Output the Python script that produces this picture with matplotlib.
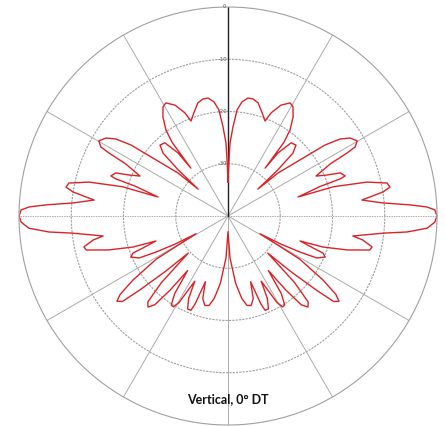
import numpy as np
import matplotlib.pyplot as plt

# right half of the vertical pattern (deg from horizontal, dB); left half is its mirror
angle_deg = [90, 89.2, 88.4, 86.8, 85.1, 83.0, 80.4, 77.9, 75.1, 71.7, 68.7, 67.3, 64.5,
             61.2, 59.2, 56.7, 54.2, 52.8, 52.2, 51.6, 49.2, 46.2, 44.1, 42.8, 42.0, 40.7,
             37.5, 36.2, 34.5, 32.6, 30.2, 28.5, 27.9, 27.0, 24.4, 22.5, 21.0, 18.9, 18.3,
             17.8, 15.2, 15.5, 13.7, 11.7, 10.1, 8.8, 6.8, 4.8, 3.5, 2.6, 1.7, 0,
             -1.7, -3.5, -5.1, -6.3, -9.1, -10.1, -12.1, -13.5, -15.9, -18.1, -19.1,
             -20.6, -21.3, -22.9, -25.3, -26.6, -28.0, -29.0, -31.0, -34.0, -36.0, -37.5,
             -39.0, -40.0, -41.5, -43.0, -45.0, -47.0, -48.7, -50.5, -52.0, -53.5, -55.5,
             -57.5, -59.0, -60.5, -63.0, -64.5, -66.5, -68.5, -69.5, -71.0, -73.0, -75.5,
             -78.0, -80.5, -83.5, -87.3, -90]
level_db = [-33.5, -30, -26, -22.9, -19.6, -18.0, -17.1, -17.1, -17.6, -19.2, -20.5, -18.6,
            -16.5, -15.3, -15.7, -17.3, -19.7, -22.3, -28.4, -24.6, -21.5, -21.2, -22.7,
            -27.0, -32.3, -27.4, -21.4, -17.0, -14.0, -12.3, -11.4, -12.3, -14.2, -18.0,
            -21.5, -19.5, -17.0, -16.3, -17.4, -21.4, -26.1, -19.0, -12.6, -8.9, -8.5,
            -10.0, -14.2, -10.2, -5.1, -1.9, -0.4, 0,
            -0.4, -1.8, -5.6, -10.1, -15.8, -13.8, -11.8, -12.1, -16.3, -20.9, -25.4,
            -22.6, -20.5, -19.8, -21.2, -24.6, -28.6, -33.0, -24.0, -18.0, -14.5, -13.2,
            -14.0, -18.0, -24.0, -29.6, -22.0, -17.5, -16.8, -18.0, -22.0, -27.0, -22.0,
            -19.8, -19.7, -21.0, -26.0, -22.5, -20.6, -20.6, -22.0, -26.7, -23.5, -22.3,
            -22.5, -24.0, -27.0, -32.0, -37.0]
ring_db = [-30, -20, -10]
ring_labels = ['0', '-10', '-20', '-30']
ring_label_db = [0, -10, -20, -30]
title = 'Vertical, 0° DT'

right = np.array(angle_deg)
full_ang = np.concatenate([right, 180 - right[::-1]])
full_db = np.concatenate([level_db, level_db[::-1]])

fig = plt.figure(figsize=(4.46, 4.26), dpi=100)
ax = fig.add_axes([19 / 446, 1 / 426, 418 / 446, 418 / 426], projection='polar')
ax.set_ylim(-40, 0)
ax.grid(False)
ax.set_xticks([])
ax.set_yticks([])
ax.spines['polar'].set_color('#a0a0a0')
ax.spines['polar'].set_linewidth(0.8)

# rings
t = np.linspace(0, 2 * np.pi, 400)
for r in ring_db:
    ax.plot(t, np.full_like(t, r), color='#a0a0a0', lw=0.8, ls=(0, (2, 1)))

# spokes every 30 degrees
for a in range(0, 360, 30):
    if a == 90:
        continue
    ls = (0, (1.5, 1)) if a in (0, 180) else '-'
    ax.plot([np.radians(a)] * 2, [-40, 0], color='#ababab', lw=0.7, ls=ls)
ax.plot([np.pi / 2] * 2, [-40, 0], color='#222222', lw=1.0)

for lab, r in zip(ring_labels, ring_label_db):
    ax.text(np.pi / 2, r, lab + ' ', ha='right', va='center', fontsize=3.8, color='#555555')

ax.plot(np.radians(full_ang), full_db, color='#d92327', lw=1.0)

fig.text(228 / 446, 1 - 399 / 426, title, ha='center', va='center',
         fontsize=9, fontweight='bold', family=['Lato', 'DejaVu Sans'], color='#111111')

fig.savefig('out.png', dpi=100)
